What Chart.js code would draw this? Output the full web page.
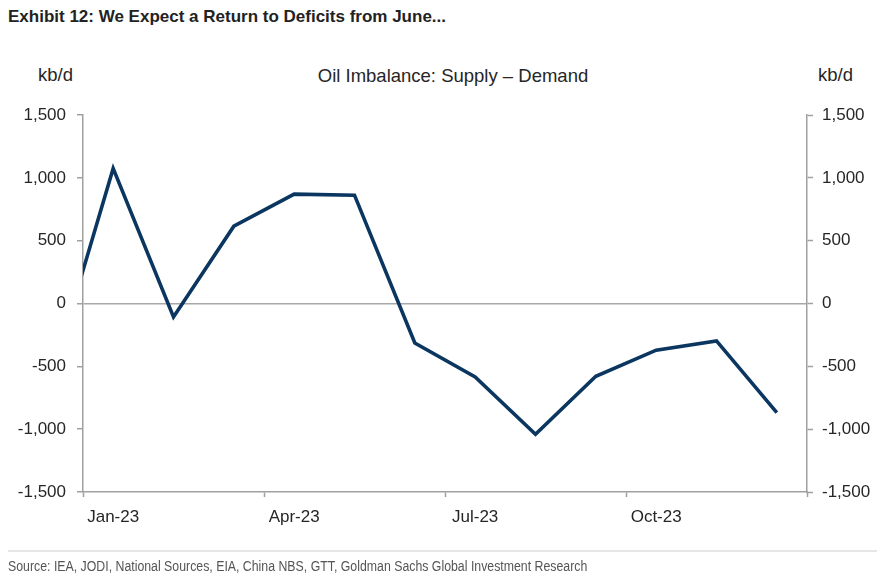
<!DOCTYPE html>
<html><head><meta charset="utf-8">
<script src="https://cdn.jsdelivr.net/npm/chart.js@4/dist/chart.umd.min.js"></script>
<style>
html,body{margin:0;padding:0;background:#fff;}
#wrap{position:relative;width:877px;height:573px;overflow:hidden;font-family:"Liberation Sans",Arial,sans-serif;color:#262626;}
#hdr{position:absolute;left:8px;top:7px;font-family:"Liberation Sans",Arial,sans-serif;font-weight:bold;font-size:17px;color:#222;white-space:nowrap;}
.unit{position:absolute;top:64px;font-size:18.5px;}
#ttl{position:absolute;top:65px;left:0;width:906px;text-align:center;font-size:18.5px;}
#rule{position:absolute;left:8px;right:0;top:550px;height:2px;background:#e6e6e6;}
#src{position:absolute;left:8px;top:558px;font-family:"Liberation Sans",Arial,sans-serif;font-size:14px;color:#555;white-space:nowrap;transform:scaleX(0.88);transform-origin:0 0;}
canvas{position:absolute;left:0;top:0;}
</style></head>
<body><div id="wrap">
<div id="hdr">Exhibit 12: We Expect a Return to Deficits from June...</div>
<div class="unit" style="left:38px">kb/d</div>
<div class="unit" style="left:818px">kb/d</div>
<div id="ttl">Oil Imbalance: Supply – Demand</div>
<canvas id="c" width="877" height="573"></canvas>
<div id="rule"></div>
<div id="src">Source: IEA, JODI, National Sources, EIA, China NBS, GTT, Goldman Sachs Global Investment Research</div>
</div>
<script>
const months = ['Dec-22','Jan-23','Feb-23','Mar-23','Apr-23','May-23','Jun-23','Jul-23','Aug-23','Sep-23','Oct-23','Nov-23','Dec-23'];
const imbalance = [-550,1075,-107,615,870,862,-314,-585,-1041,-579,-371,-298,-868];
const xTickLabels = ['Jan-23','Apr-23','Jul-23','Oct-23'];
const yTicks = [-1500,-1000,-500,0,500,1000,1500];

const xMin = 0.5, xMax = months.length - 0.5;
const xTickVals = [];
xTickLabels.forEach(l => { const i = months.indexOf(l); xTickVals.push(i - 0.5, i); });
xTickVals.push(xMax);

const axisCol = '#a0a0a0';
const txtCol = '#262626';
const font = {family: '"Liberation Sans", Arial, sans-serif', size: 17};
const fmt = v => Number(v).toLocaleString('en-US');

const yCommon = {
  type: 'linear', min: yTicks[0], max: yTicks[yTicks.length-1],
  afterBuildTicks: s => { s.ticks = yTicks.map(v => ({value: v})); },
  border: {color: axisCol, width: 1.5}
};

new Chart(document.getElementById('c'), {
  type: 'line',
  data: {
    datasets: [{
      data: months.map((m, i) => ({x: i, y: imbalance[i]})),
      borderColor: '#0b3660', borderWidth: 3.6, pointRadius: 0, tension: 0,
      fill: false, clip: 0
    }]
  },
  options: {
    responsive: false, animation: false, devicePixelRatio: 1,
    layout: {padding: {top: 115, bottom: 43, left: 0, right: 0}},
    plugins: {legend: {display: false}, tooltip: {enabled: false}},
    scales: {
      x: {
        type: 'linear', min: xMin, max: xMax,
        afterBuildTicks: s => { s.ticks = xTickVals.map(v => ({value: v})); },
        afterFit: s => { s.height = 38; },
        ticks: {
          autoSkip: false, maxRotation: 0, color: txtCol, font, padding: 10,
          callback: v => Number.isInteger(v) ? months[v] : ''
        },
        grid: {
          drawOnChartArea: false, tickLength: 5,
          tickColor: ctx => (ctx.tick && Number.isInteger(ctx.tick.value)) ? 'rgba(0,0,0,0)' : axisCol,
          tickWidth: 1.5
        },
        border: {color: axisCol, width: 1.5}
      },
      y: Object.assign({}, yCommon, {
        position: 'left',
        afterFit: s => { s.width = 83; },
        ticks: {color: txtCol, font, padding: 11, callback: fmt},
        grid: {
          drawOnChartArea: true, tickLength: 6, tickWidth: 1.5, lineWidth: 1.5,
          color: ctx => (ctx.tick && ctx.tick.value === 0) ? '#a8a8a8' : 'rgba(0,0,0,0)',
          tickColor: axisCol
        }
      }),
      y2: Object.assign({}, yCommon, {
        position: 'right',
        afterFit: s => { s.width = 70; },
        ticks: {color: txtCol, font, padding: 9, callback: fmt},
        grid: {drawOnChartArea: false, tickLength: 6, tickWidth: 1.5, color: axisCol, tickColor: axisCol}
      })
    }
  }
});
</script>
</body></html>
